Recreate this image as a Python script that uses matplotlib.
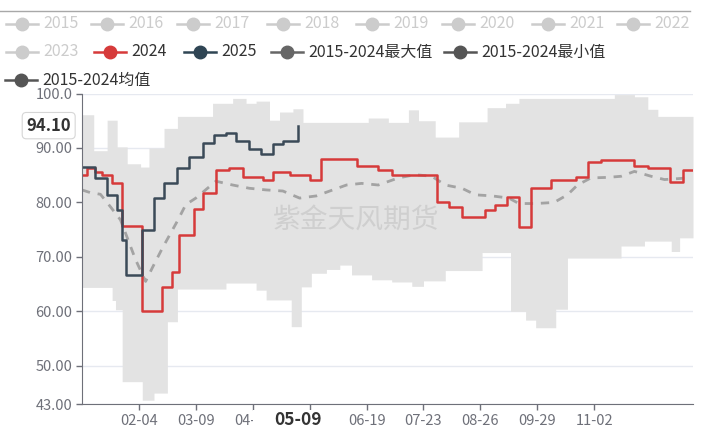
import numpy as np
import pandas as pd
import matplotlib
matplotlib.use('Agg')
import matplotlib.pyplot as plt
from matplotlib.lines import Line2D
from matplotlib.patches import Rectangle
import matplotlib.transforms as mtransforms

plt.rcParams['font.family'] = ['Noto Sans CJK SC', 'DejaVu Sans']

# 数据：各序列按换档日期给出（周度数据，阶梯显示）
max_dates = ['01-01', '01-08', '01-16', '01-22', '01-28', '02-05', '02-10', '02-19', '02-27',
             '03-19', '03-31', '04-08', '04-14', '04-22', '04-28', '05-06', '05-12', '06-20',
             '07-02', '07-14', '07-20', '07-30', '08-13', '08-30', '09-10', '09-18', '11-14',
             '11-26', '12-04', '12-10']
max_vals = [96.1, 89.5, 95.1, 90.2, 87.1, 86.5, 90.0, 93.6, 95.8,
            98.2, 99.1, 98.2, 98.6, 95.1, 96.6, 97.2, 94.7, 95.5,
            94.7, 97.0, 95.0, 92.0, 94.8, 97.4, 98.2, 99.1, 99.8,
            99.4, 97.1, 95.8]

min_dates = ['01-01', '01-19', '01-21', '01-25', '02-06', '02-13', '02-21', '02-27', '03-27',
             '04-14', '04-20', '05-05', '05-11', '05-17', '05-26', '06-03', '06-10', '06-22',
             '07-04', '07-16', '07-23', '08-05', '08-27', '09-13', '09-22', '09-28', '10-10',
             '10-17', '11-18', '12-02', '12-18', '12-23']
min_vals = [64.4, 62.0, 60.3, 47.1, 43.7, 45.0, 58.1, 64.1, 65.2,
            63.9, 62.1, 57.2, 64.5, 67.0, 67.7, 68.5, 66.7, 65.8,
            65.4, 64.6, 65.6, 67.5, 70.8, 60.0, 58.4, 57.0, 60.4,
            69.8, 72.0, 72.9, 71.0, 73.5]

mean_dates = ['01-01', '01-06', '01-12', '01-18', '01-24', '02-02', '02-08', '02-12', '02-18',
              '02-27', '03-03', '03-09', '03-21', '03-31', '04-10', '04-20', '04-30', '05-10',
              '05-20', '05-28', '06-07', '06-16', '06-26', '07-08', '07-18', '07-28', '08-05',
              '08-15', '08-23', '09-02', '09-12', '09-18', '09-28', '10-09', '10-17', '10-23',
              '10-31', '11-10', '11-18', '11-26', '12-06', '12-14', '12-28']
mean_vals = [82.3, 81.8, 81.5, 79.2, 76.8, 69.5, 65.5, 68.0, 71.6,
             76.6, 79.6, 80.8, 83.9, 83.2, 82.6, 82.3, 82.1, 80.8,
             81.2, 82.1, 83.2, 83.5, 83.2, 84.5, 85.1, 84.8, 83.2,
             82.6, 81.4, 81.2, 80.8, 79.8, 79.8, 80.0, 81.4, 83.2,
             84.5, 84.6, 84.8, 85.7, 84.8, 84.2, 84.5]

y2024_dates = ['01-01', '01-04', '01-09', '01-13', '01-19', '01-25', '02-06', '02-18', '02-24',
               '02-28', '03-08', '03-13', '03-21', '03-29', '04-06', '04-18', '04-24', '05-04',
               '05-16', '05-23', '06-13', '06-26', '07-04', '07-31', '08-07', '08-15', '08-29',
               '09-04', '09-11', '09-18', '09-25', '10-07', '10-22', '10-29', '11-06', '11-26',
               '12-04', '12-17', '12-25']
y2024_vals = [85.0, 86.3, 85.5, 85.0, 83.6, 75.7, 60.1, 64.4, 67.2,
              74.1, 78.8, 81.7, 85.9, 86.3, 84.7, 84.1, 85.6, 85.1,
              84.1, 87.9, 86.6, 86.0, 85.1, 80.1, 79.2, 77.4, 78.6,
              79.5, 81.0, 75.5, 82.6, 84.1, 84.7, 87.5, 87.8, 86.6,
              86.3, 83.8, 85.9]

y2025_dates = ['01-01', '01-09', '01-16', '01-22', '01-25', '01-27', '02-06', '02-13', '02-19',
               '02-27', '03-05', '03-13', '03-20', '03-27', '04-02', '04-10', '04-17', '04-24',
               '04-30', '05-09']
y2025_vals = [86.5, 84.5, 81.3, 78.6, 73.1, 66.7, 74.9, 80.8, 83.6,
              86.3, 88.4, 90.9, 92.4, 92.8, 91.2, 89.8, 88.9, 90.8,
              91.3, 94.1]

tick_dates = ['02-04', '03-09', '04-12', '05-16', '06-19', '07-23', '08-26', '09-29', '11-02']
y_ticks = [43, 50, 60, 70, 80, 90, 100]
legend_years = ['2015', '2016', '2017', '2018', '2019', '2020', '2021', '2022', '2023']


def doy(dates):
    return np.array([pd.Timestamp('2024-' + d).dayofyear - 1 for d in dates])


days = np.arange(366)


def daily(dates, vals):
    idx = np.searchsorted(doy(dates), days, side='right') - 1
    return np.array(vals)[idx]


W, H = 720, 430
fig = plt.figure(figsize=(W / 100, H / 100), dpi=100)
ax = fig.add_axes([82 / W, 1 - 404 / H, (693 - 82) / W, (404 - 93.5) / H])

# 最大/最小值区间
ax.fill_between(days, daily(min_dates, min_vals), daily(max_dates, max_vals),
                step='post', color='#e3e3e3', lw=0, zorder=1)

ax.text(356 / W, 1 - 220 / H, '紫金天风期货', transform=fig.transFigure, fontsize=20,
        color='#cfcfcf', ha='center', va='center', zorder=2)

ax.plot(doy(mean_dates), mean_vals, color='#a3a3a3', lw=2, ls=(0, (3, 2.8)), zorder=3)

x24 = np.append(doy(y2024_dates), 365)
v24 = np.append(y2024_vals, y2024_vals[-1])
ax.plot(x24, v24, drawstyle='steps-post', color='#d63a3a', lw=1.8, zorder=4)
ax.plot(doy(y2025_dates), y2025_vals, drawstyle='steps-post', color='#3b4a58', lw=1.8, zorder=5)

ax.set_xlim(0, 365)
ax.set_ylim(43, 100)
ax.set_yticks(y_ticks)
ax.set_yticklabels(['100.0' if v == 100 else f'{v:.2f}' for v in y_ticks])
ax.set_xticks(doy(tick_dates))
ax.set_xticklabels(tick_dates)
ax.tick_params(axis='both', colors='#6e7079', labelcolor='#6e7079', labelsize=10.5,
               length=4, width=1, pad=3)
ax.grid(axis='y', color='#e6e9f0', lw=1)
ax.set_axisbelow(True)
for s in ['top', 'right']:
    ax.spines[s].set_visible(False)
for s in ['left', 'bottom']:
    ax.spines[s].set_color('#6e7079')
    ax.spines[s].set_zorder(6)

# 坐标轴指示标签
trans = mtransforms.blended_transform_factory(ax.transAxes, ax.transData)
ax.text(-0.018, y2025_vals[-1], f'{y2025_vals[-1]:.2f}', transform=trans, ha='right', va='center',
        fontsize=12, fontweight='bold', color='#333333', zorder=10, clip_on=False,
        bbox=dict(boxstyle='round,pad=0.25', fc='white', ec='#d6d6d6', lw=0.8))
last_day = doy([y2025_dates[-1]])[0]
xtrans = mtransforms.blended_transform_factory(ax.transData, ax.transAxes)
ax.add_patch(Rectangle((last_day - 27, -0.09), 54, 0.07, transform=xtrans, fc='white',
                       ec='none', clip_on=False, zorder=9))
ax.annotate(y2025_dates[-1], xy=(last_day, 43), xycoords='data',
            xytext=(0, -11.5), textcoords='offset points', ha='center', va='center',
            fontsize=12.5, fontweight='bold', color='#333333', zorder=10, annotation_clip=False)

# 顶部分隔线
fig.add_artist(Line2D([0, 690 / W], [1 - 11 / H] * 2, color='#a8a8a8', lw=1))


def legend_item(xm, y, label, color, tcolor):
    yy = 1 - y / H
    fig.add_artist(Line2D([(xm - 16) / W, (xm + 16) / W], [yy, yy], color=color, lw=1.8))
    fig.add_artist(Line2D([xm / W], [yy], marker='o', ms=9, color=color, mec=color))
    fig.text((xm + 21) / W, yy, label, color=tcolor, fontsize=11.5, va='center', ha='left')


row1_x = [22, 107, 193, 283, 372, 458, 548, 633]
for xm, lab in zip(row1_x, legend_years[:8]):
    legend_item(xm, 24, lab, '#cccccc', '#cccccc')
legend_item(22, 52, legend_years[8], '#cccccc', '#cccccc')
legend_item(110, 52, '2024', '#d63a3a', '#333333')
legend_item(200, 52, '2025', '#2f4554', '#333333')
legend_item(287, 52, '2015-2024最大值', '#666666', '#333333')
legend_item(460, 52, '2015-2024最小值', '#555555', '#333333')
legend_item(21, 80, '2015-2024均值', '#555555', '#333333')

fig.savefig('out.png', dpi=100)
